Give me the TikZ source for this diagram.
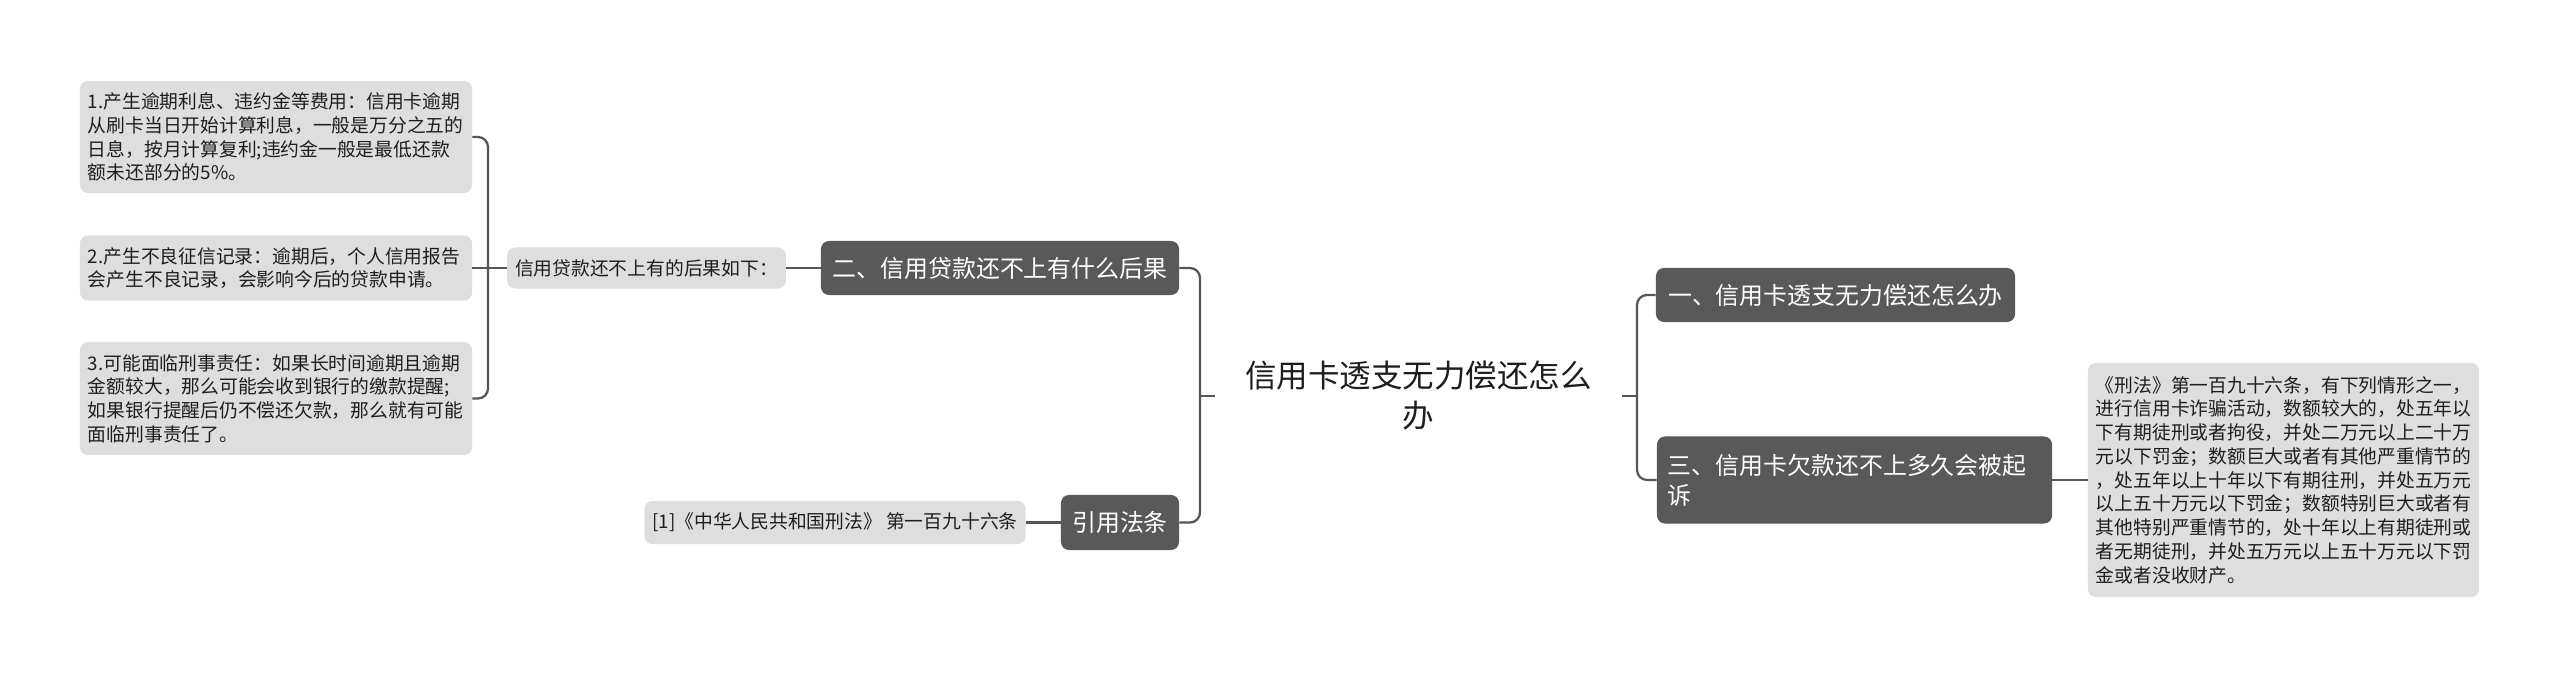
\documentclass[tikz,border=0pt]{standalone}
\usepackage{fontspec}
\setmainfont{Noto Sans CJK SC}
\definecolor{leafgray}{HTML}{DEDEDE}
\definecolor{topicgray}{HTML}{595959}
\definecolor{linegray}{HTML}{555555}
\definecolor{txtdark}{HTML}{1E1E1E}
\newcommand{\leafsz}{\fontsize{13.35pt}{16.9pt}\selectfont}
\newcommand{\topicsz}{\fontsize{17pt}{21.3pt}\selectfont}
\newcommand{\rootsz}{\fontsize{22.4pt}{28.5pt}\selectfont}
\tikzset{
  leaf/.style={fill=leafgray, rounded corners=0.2cm, font=\leafsz, text=txtdark,
    inner xsep=0.2cm, inner ysep=0pt, align=left},
  topic/.style={fill=topicgray, rounded corners=0.2cm, font=\topicsz, text=white,
    inner xsep=0.275cm, inner ysep=0pt, align=left},
  rootnode/.style={font=\rootsz, text=txtdark, align=center, inner sep=0pt},
  link/.style={draw=linegray, line width=1.6pt, rounded corners=0.25cm}
}
\begin{document}
\begin{tikzpicture}[x=0.025cm,y=-0.025cm]
\useasboundingbox[fill=white] (0,0) rectangle (2560,678);

% left leaves
\node[leaf, text width=9.4cm, minimum height=2.8cm] (L1) at (276,137)
  {1.产生逾期利息、违约金等费用：信用卡逾期\\从刷卡当日开始计算利息，一般是万分之五的\\日息，按月计算复利;违约金一般是最低还款\\额未还部分的5\%。};
\node[leaf, text width=9.4cm, minimum height=1.625cm] (L2) at (276,268)
  {2.产生不良征信记录：逾期后，个人信用报告\\会产生不良记录，会影响今后的贷款申请。};
\node[leaf, text width=9.4cm, minimum height=2.825cm] (L3) at (276,398.5)
  {3.可能面临刑事责任：如果长时间逾期且逾期\\金额较大，那么可能会收到银行的缴款提醒;\\如果银行提醒后仍不偿还欠款，那么就有可能\\面临刑事责任了。};

\node[leaf, align=center, minimum width=6.925cm, minimum height=1.025cm] (S) at (646.5,268)
  {信用贷款还不上有的后果如下：};
\node[topic, align=center, minimum width=8.95cm, minimum height=1.35cm] (D2) at (1000,268)
  {二、信用贷款还不上有什么后果};

\node[leaf, align=center, minimum width=9.5cm, minimum height=1.075cm] (Q) at (835,522.5)
  {[1]《中华人民共和国刑法》 第一百九十六条};
\node[topic, align=center, minimum width=2.95cm, minimum height=1.375cm] (Y) at (1120,522.5)
  {引用法条};

% root
\node[rootnode, minimum width=10.175cm] (root) at (1418.5,396)
  {信用卡透支无力偿还怎么\\办};

% right side
\node[topic, align=center, minimum width=8.975cm, minimum height=1.35cm] (D1) at (1835.5,295)
  {一、信用卡透支无力偿还怎么办};
\node[topic, text width=9.325cm, minimum height=2.175cm] (D3) at (1854.5,480)
  {三、信用卡欠款还不上多久会被起\\诉};
\node[leaf, text width=9.375cm, minimum height=5.85cm] (F) at (2283.5,480)
  {《刑法》第一百九十六条，有下列情形之一，\\进行信用卡诈骗活动，数额较大的，处五年以\\下有期徒刑或者拘役，并处二万元以上二十万\\元以下罚金；数额巨大或者有其他严重情节的\\，处五年以上十年以下有期往刑，并处五万元\\以上五十万元以下罚金；数额特别巨大或者有\\其他特别严重情节的，处十年以上有期徒刑或\\者无期徒刑，并处五万元以上五十万元以下罚\\金或者没收财产。};

% junction coordinates
\coordinate (lb) at (488,268);
\coordinate (rb) at (1200,396);
\coordinate (rc) at (1637,396);

% connectors
\draw[link] (L1.east) -| (lb) |- (L3.east);
\draw[link] (L2.east) -- (lb);
\draw[link] (lb) -- (S.west);
\draw[link] (S.east) -- (D2.west);
\draw[link] (D2.east) -| (rb) |- (Y.east);
\draw[link] (rb) -- (root.west);
\draw[link] (Q.east) -- (Y.west);
\draw[link] (root.east) -- (rc);
\draw[link] (D1.west) -| (rc) |- (D3.west);
\draw[link] (D3.east) -- (F.west);
\end{tikzpicture}
\end{document}
